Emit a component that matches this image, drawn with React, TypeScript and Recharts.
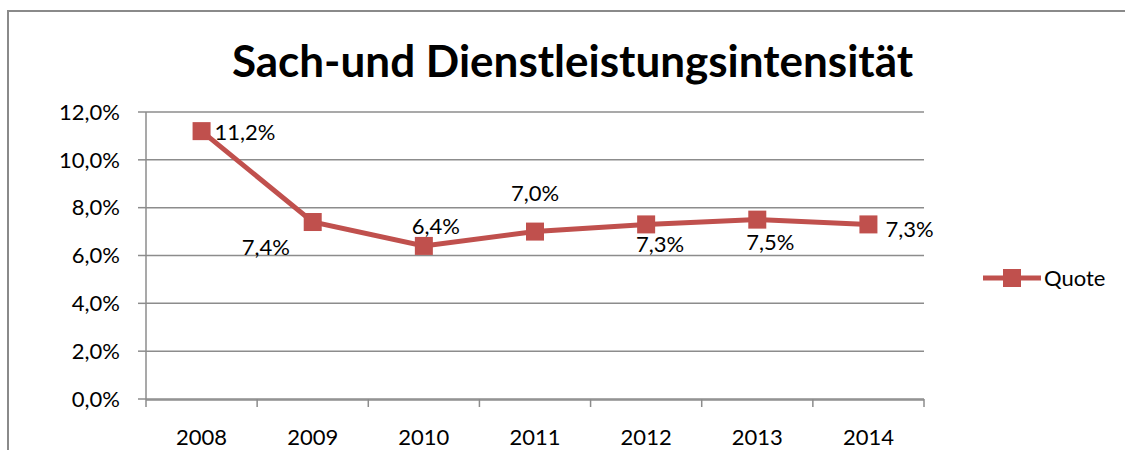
import React from 'react';
import { LineChart, Line, XAxis, YAxis, CartesianGrid, Legend, LabelList } from 'recharts';

const years = ['2008', '2009', '2010', '2011', '2012', '2013', '2014'];
const quote = [11.2, 7.4, 6.4, 7.0, 7.3, 7.5, 7.3];
const yTicks = [0, 2, 4, 6, 8, 10, 12];
const edgeTicks = [0, 1, 2, 3, 4, 5, 6, 7];

const data = years.map((year, i) => ({ year, edge: i + 0.5, quote: quote[i] }));

// where each data label sits relative to its point (dx, dy, anchor)
const labelPlacement: [number, number, string][] = [
  [13, 0, 'start'],
  [-47, 24, 'middle'],
  [12, -20, 'middle'],
  [0, -39, 'middle'],
  [14, 19, 'middle'],
  [13, 22, 'middle'],
  [17, 4, 'start'],
];

const RED = '#C0504D';
const GRID = '#8C8C8C';
const FONT = 'Lato, "Open Sans", sans-serif';
const FS = 22;

const fmt = (v: number) => v.toFixed(1).replace('.', ',') + '%';

const DataLabel = (props: any) => {
  const { x, y, value, index } = props;
  const [dx, dy, anchor] = labelPlacement[index];
  return (
    <text x={x + dx} y={y + dy} textAnchor={anchor as any} dominantBaseline="central"
      fontFamily={FONT} fontSize={FS} fill="#000">
      {fmt(value)}
    </text>
  );
};

const LegendContent = (props: any) => {
  const { payload } = props;
  return (
    <div>
      {(payload || []).map((entry: any) => (
        <div key={entry.value} style={{ display: 'flex', alignItems: 'center' }}>
          <svg width={58} height={20}>
            <line x1={0} y1={10} x2={58} y2={10} stroke={RED} strokeWidth={5} strokeLinecap="round" />
            <rect x={20} y={1} width={18} height={18} fill={RED} />
          </svg>
          <span style={{ marginLeft: 3, fontSize: FS, fontFamily: FONT, color: '#000' }}>{entry.value}</span>
        </div>
      ))}
    </div>
  );
};

export default function App() {
  return (
    <div style={{ position: 'absolute', left: 0, top: 0, width: 1125, height: 450, overflow: 'hidden', background: '#fff' }}>
      <div style={{ position: 'absolute', left: 7, top: 10, width: 1300, height: 600, border: '2px solid #8A8A8A' }} />
      <div style={{ position: 'absolute', left: 0, top: 0 }}>
        <LineChart width={1125} height={450} data={data} margin={{ top: 112, right: 201, left: 86, bottom: 10 }}>
          <CartesianGrid vertical={false} stroke={GRID} strokeWidth={1.5} xAxisId="x" />
          <XAxis xAxisId="axEdge" type="number" dataKey="edge" domain={[0, 7]} ticks={edgeTicks} interval={0}
            height={1} axisLine={false} tickSize={8} tickLine={{ stroke: GRID, strokeWidth: 1.5 }}
            tick={() => <g />} />
          <XAxis xAxisId="x" dataKey="year" scale="band" height={40} interval={0}
            axisLine={{ stroke: GRID, strokeWidth: 1.5 }} tickLine={false} tickSize={8} tickMargin={21}
            tick={{ fontFamily: FONT, fontSize: FS, fill: '#000' }} />
          <YAxis domain={[0, 12]} ticks={yTicks} width={60} interval={0} tickFormatter={fmt}
            axisLine={{ stroke: GRID, strokeWidth: 1.5 }} tickLine={{ stroke: GRID, strokeWidth: 1.5 }}
            tickSize={8} tickMargin={18} tick={{ fontFamily: FONT, fontSize: FS, fill: '#000' }} />
          <Legend layout="horizontal" verticalAlign="middle" align="center" content={LegendContent}
            wrapperStyle={{ left: 983, top: 264, width: 140 }} />
          <Line xAxisId="x" dataKey="quote" name="Quote" stroke={RED} strokeWidth={5}
            isAnimationActive={false}
            dot={(p: any) => <rect key={p.index} x={p.cx - 9} y={p.cy - 9} width={18} height={18} fill={RED} />}>
            <LabelList dataKey="quote" content={DataLabel} />
          </Line>
        </LineChart>
      </div>
      <div style={{ position: 'absolute', left: 0, width: 1145, top: 34, textAlign: 'center', fontFamily: FONT, fontWeight: 'bold', fontSize: 44, color: '#000', lineHeight: '52px' }}>
        Sach-und Dienstleistungsintensität
      </div>
    </div>
  );
}
